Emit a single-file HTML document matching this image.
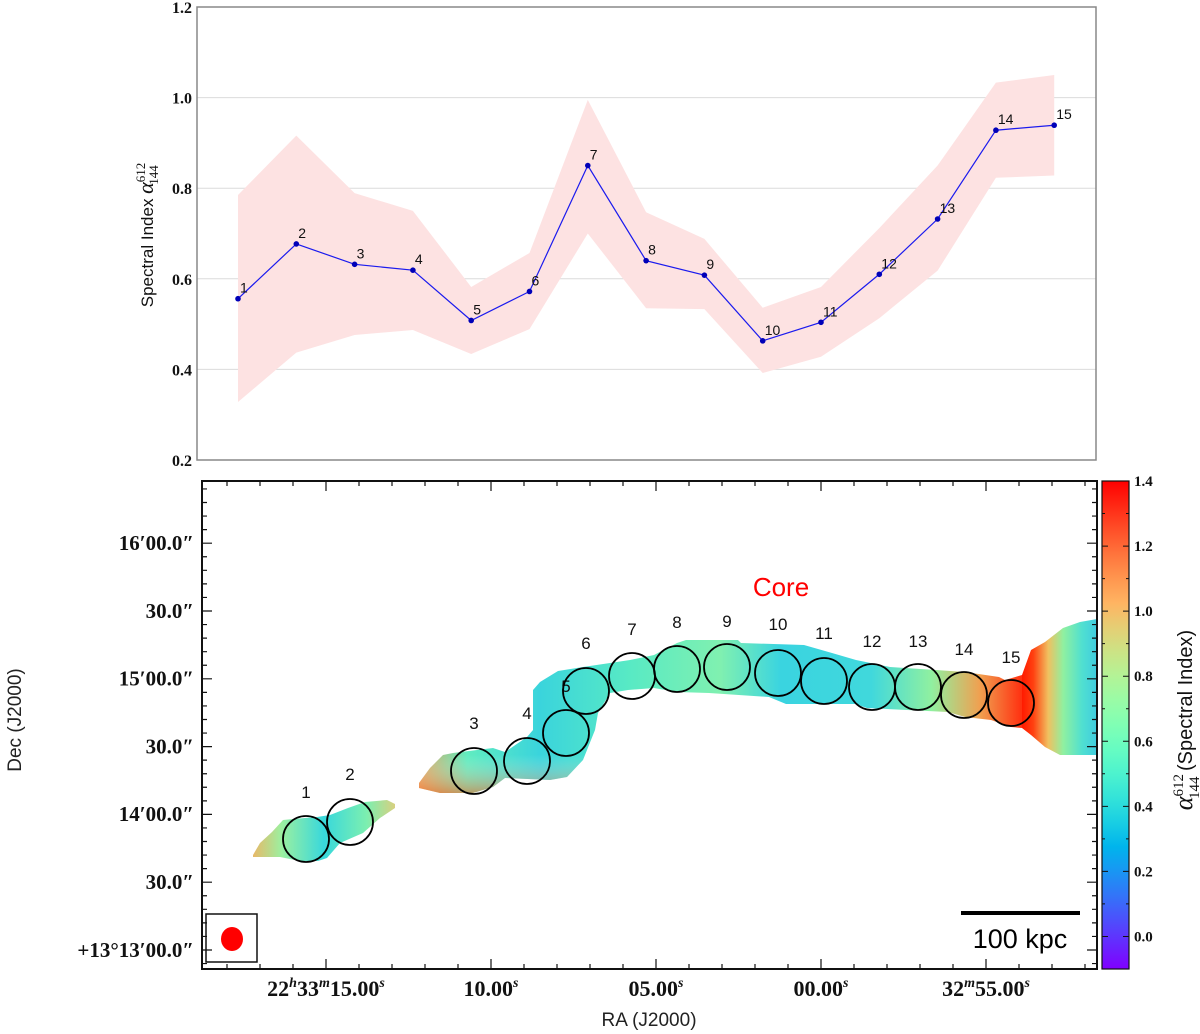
<!DOCTYPE html>
<html><head><meta charset="utf-8"><style>
html,body{margin:0;padding:0;background:#fff;}
svg{display:block;}
.serif{font-family:"Liberation Serif","DejaVu Serif",serif;font-weight:bold;}
.sans{font-family:"Liberation Sans","DejaVu Sans",sans-serif;}
</style></head><body>
<svg id="fig" width="1200" height="1034" viewBox="0 0 1200 1034" xmlns="http://www.w3.org/2000/svg">
<defs>
<linearGradient id="blobGradA" x1="0" y1="0" x2="1" y2="0">
<stop offset="0" stop-color="#e8b868"/><stop offset="0.2" stop-color="#9cf0a0"/><stop offset="0.5" stop-color="#38d8dc"/><stop offset="0.8" stop-color="#7cefb0"/><stop offset="1" stop-color="#d8d080"/>
</linearGradient>
<linearGradient id="mainGrad" x1="0" y1="0" x2="1" y2="0">
<stop offset="0" stop-color="#e0a860"/><stop offset="0.08" stop-color="#60ecc0"/><stop offset="0.2" stop-color="#3ad4dc"/><stop offset="0.35" stop-color="#58eac4"/><stop offset="0.5" stop-color="#80f0b0"/><stop offset="0.6" stop-color="#3ad4e0"/><stop offset="0.75" stop-color="#40d8dc"/><stop offset="0.85" stop-color="#90f0a0"/><stop offset="0.93" stop-color="#f0a050"/><stop offset="1" stop-color="#ff3010"/>
</linearGradient>
<linearGradient id="edgeGrad" x1="0" y1="0" x2="0" y2="1">
<stop offset="0" stop-color="#ffffff" stop-opacity="0"/><stop offset="0.75" stop-color="#ffffff" stop-opacity="0"/><stop offset="1" stop-color="#ff6020" stop-opacity="0.55"/>
</linearGradient>
<linearGradient id="wedgeGrad" x1="0" y1="0" x2="1" y2="0">
<stop offset="0" stop-color="#ff1a00"/><stop offset="0.15" stop-color="#ff4010"/><stop offset="0.35" stop-color="#f0c060"/><stop offset="0.55" stop-color="#90f0a0"/><stop offset="0.8" stop-color="#50e0d0"/><stop offset="1" stop-color="#40cce0"/>
</linearGradient>
<linearGradient id="cbGrad" x1="0" y1="1" x2="0" y2="0"></linearGradient>
</defs>
<g id="topPanel"></g>
<g id="bottomPanel"></g>
</svg>
<script>
// ===== Top chart data =====
const regions = [1,2,3,4,5,6,7,8,9,10,11,12,13,14,15];
const alphaValues = [0.556,0.677,0.632,0.619,0.508,0.572,0.850,0.640,0.608,0.463,0.504,0.610,0.732,0.928,0.939];
const alphaUpper = [0.785,0.916,0.789,0.750,0.582,0.657,0.995,0.747,0.688,0.536,0.582,0.712,0.850,1.033,1.050];
const alphaLower = [0.328,0.437,0.476,0.487,0.434,0.489,0.700,0.535,0.533,0.392,0.428,0.513,0.618,0.823,0.828];
const yTicks = [0.2,0.4,0.6,0.8,1.0,1.2];
const gridTicks = [0.4,0.6,0.8,1.0];

// ===== Bottom map data =====
const circleRA = [306,350,474,527,566,586,632,677,727,778,824,872,918,964,1011];
const circleDec = [839,822,771,761,733,691,676,669,667,673,681,687,687,695,703];
const labelPos = [[306,798],[350,780],[474,729],[527,719],[566,692],[586,649],[632,635],[677,628],[727,627],[778,630],[824,639],[872,647],[918,647],[964,655],[1011,663]];
const raTickLabels = ["22h33m15.00s","10.00s","05.00s","00.00s","32m55.00s"];
const decTickLabels = ["16′00.0″","30.0″","15′00.0″","30.0″","14′00.0″","30.0″","+13°13′00.0″"];
const cbTicks = [0.0,0.2,0.4,0.6,0.8,1.0,1.2,1.4];

const NS='http://www.w3.org/2000/svg';
function mk(tag, attrs, parent){const e=document.createElementNS(NS,tag);for(const k in attrs)e.setAttribute(k,attrs[k]);parent.appendChild(e);return e;}

// ---- top chart ----
const topG=document.getElementById('topPanel');
const X0=197,X1=1096,Y0=7,Y1=460;
const xs=i=>238+58.3*i;
const ys=v=>Y0+(1.2-v)*(Y1-Y0);
gridTicks.forEach(t=>{const g=mk('line',{x1:X0,x2:X1,y1:ys(t),y2:ys(t),stroke:'#dcdcdc','stroke-width':1},topG);

});
let pts=alphaUpper.map((v,i)=>xs(i)+','+ys(v));
for(let i=alphaLower.length-1;i>=0;i--)pts.push(xs(i)+','+ys(alphaLower[i]));
const band=mk('polygon',{points:pts.join(' '),fill:'#fde2e2'},topG);


const line=mk('polyline',{points:alphaValues.map((v,i)=>xs(i)+','+ys(v)).join(' '),fill:'none',stroke:'#1a1aee','stroke-width':1.2},topG);


alphaValues.forEach((v,i)=>{
 const c=mk('circle',{cx:xs(i),cy:ys(v),r:2.8,fill:'#0000b8'},topG);
 
 
 const t=mk('text',{x:xs(i)+2,y:ys(v)-6,'font-size':14,class:'sans',fill:'#111'},topG);
 t.textContent=regions[i];
 
 
});
const fr=mk('rect',{x:X0,y:Y0,width:X1-X0,height:Y1-Y0,fill:'none',stroke:'#888','stroke-width':1.5},topG);


yTicks.forEach(t=>{const tx=mk('text',{x:192,y:ys(t)+6,'text-anchor':'end','font-size':16,class:'serif',fill:'#111'},topG);
tx.textContent=t.toFixed(1);

});
const yl=mk('text',{transform:'translate(153,235) rotate(-90)','text-anchor':'middle','font-size':17,class:'sans',fill:'#111'},topG);


yl.innerHTML='Spectral Index <tspan font-family="Liberation Serif,serif" font-style="italic" font-size="22">α</tspan><tspan font-size="13" dy="-8" font-family="Liberation Serif,serif">612</tspan><tspan font-size="13" dx="-22" dy="13" font-family="Liberation Serif,serif">144</tspan>';

// ---- bottom map ----
const bot=document.getElementById('bottomPanel');
const BX0=202,BX1=1097,BY0=481,BY1=969;
const blobA=mk('polygon',{points:'253,855 260,843 272,832 283,820 293,819 317,817 330,815 348,808 365,802 387,800 395,804 395,808 380,818 363,833 340,843 327,858 318,861 300,861 280,857 253,857',fill:'url(#blobGradA)'},bot);


const mainPts='419,788 419,783 430,768 443,755 453,753 493,748 505,752 527,737 533,730 533,690 540,682 558,671 583,667 610,663 630,660 654,655 677,643 686,640 738,640 741,643 804,645 832,653 856,660 890,667 936,670 965,672 999,677 1005,680 1022,675 1022,728 1011,727 991,720 965,717 948,712 867,708 855,704 786,704 769,697 709,693 677,692 654,688 628,690 610,693 598,713 595,730 583,760 567,777 550,780 505,778 493,787 473,793 440,793 419,788';
const mainP=mk('polygon',{points:mainPts,fill:'url(#mainGrad)'},bot);


const mainEdge=mk('polygon',{points:mainPts,fill:'url(#edgeGrad)'},bot);


const wedge=mk('polygon',{points:'1022,675 1031,650 1045,642 1063,628 1080,622 1097,619 1097,755 1060,755 1045,747 1031,735 1022,728',fill:'url(#wedgeGrad)'},bot);


circleRA.forEach((x,i)=>{
 const c=mk('circle',{cx:x,cy:circleDec[i],r:23,fill:'none',stroke:'#000','stroke-width':1.8},bot);
 
 
 const t=mk('text',{x:labelPos[i][0],y:labelPos[i][1],'text-anchor':'middle','font-size':17,class:'sans',fill:'#111'},bot);
 t.textContent=regions[i];
 
 
});
const core=mk('text',{x:781,y:596,'text-anchor':'middle','font-size':26,class:'sans',fill:'#ff0000'},bot);
core.textContent='Core';


const bb=mk('rect',{x:206,y:914,width:51,height:48,fill:'#fff',stroke:'#111','stroke-width':1.5},bot);


const be=mk('ellipse',{cx:232,cy:939,rx:11,ry:12,fill:'#ff0000'},bot);


const sb=mk('rect',{x:961,y:911,width:119,height:4,fill:'#000'},bot);


const sbt=mk('text',{x:1020,y:948,'text-anchor':'middle','font-size':27,class:'sans',fill:'#000'},bot);
sbt.textContent='100 kpc';


let tk='';
const raMajor=[326,491,656,821,986];
for(let x=326-33*3;x<BX1;x+=33){if(x<=BX0)continue;const maj=raMajor.some(m=>Math.abs(m-x)<1);const L=maj?10:5;tk+=`M${x},${BY1}v${-L}M${x},${BY0}v${L}`;}
for(let k=0;k<40;k++){const y=950-13.56*k;if(y<=BY0)break;const L=(k%5===0)?10:5;tk+=`M${BX0},${y}h${L}M${BX1},${y}h${-L}`;}
tk+=`M${BX0},${963.56}h5M${BX1},${963.56}h-5`;
const ticks=mk('path',{d:tk,stroke:'#111','stroke-width':1.2,fill:'none'},bot);


const bf=mk('rect',{x:BX0,y:BY0,width:BX1-BX0,height:BY1-BY0,fill:'none',stroke:'#111','stroke-width':2},bot);


const sup=u=>'<tspan font-size="14" dy="-9" font-style="italic">'+u+'</tspan>';
raTickLabels.forEach((s,i)=>{
 const t=mk('text',{x:raMajor[i],y:996,'text-anchor':'middle','font-size':22,class:'serif',fill:'#111'},bot);
 const m=s.match(/^(?:(\d+)h)?(?:(\d+)m)?([\d.]+)s$/);
 let h='';
 if(m){
 let first=true;
 const num=n=>{const r=first?'<tspan>'+n+'</tspan>':'<tspan dy="9">'+n+'</tspan>';first=false;return r;};
 if(m[1])h+=num(m[1])+sup('h');
 if(m[2])h+=num(m[2])+sup('m');
 h+=num(m[3])+sup('s');
 } else h=s;
 t.innerHTML=h;
 
 
});
decTickLabels.forEach((s,i)=>{
 const t=mk('text',{x:194,y:543+67.8*i+7,'text-anchor':'end','font-size':21,class:'serif',fill:'#111'},bot);
 t.textContent=s;
 
 
});
const ral=mk('text',{x:649,y:1026,'text-anchor':'middle','font-size':19,class:'sans',fill:'#222'},bot);
ral.textContent='RA (J2000)';


const dl=mk('text',{transform:'translate(21,720) rotate(-90)','text-anchor':'middle','font-size':19,class:'sans',fill:'#222'},bot);
dl.textContent='Dec (J2000)';


const g=document.getElementById('cbGrad');
for(let k=0;k<=20;k++){const x=k/20;const r=Math.min(1,Math.abs(2*x-0.5)),gg=Math.sin(Math.PI*x),b=Math.cos(Math.PI*x/2);
 mk('stop',{offset:x,'stop-color':`rgb(${Math.round(r*255)},${Math.round(gg*255)},${Math.round(Math.max(0,b)*255)})`},g);}
const CB0=481,CB1=969,cbv=v=>CB1-(v+0.1)/1.5*(CB1-CB0);
const cb=mk('rect',{x:1102,y:CB0,width:27,height:CB1-CB0,fill:'url(#cbGrad)',stroke:'#111','stroke-width':1.2},bot);


let ct='';
for(let k=0;k<=15;k++){const v=-0.1+0.1*k;const y=cbv(v);const L=(k%2===1)?6:3;ct+=`M1102,${y}h${L}M1129,${y}h${-L}`;}
const cbt=mk('path',{d:ct,stroke:'#111','stroke-width':1,fill:'none'},bot);


cbTicks.forEach(v=>{const t=mk('text',{x:1134,y:cbv(v)+5,'font-size':15,class:'serif',fill:'#111'},bot);
 t.textContent=v.toFixed(1);
 
 });
const cl=mk('text',{transform:'translate(1192,720) rotate(-90)','text-anchor':'middle','font-size':20,class:'sans',fill:'#111'},bot);
cl.innerHTML='<tspan font-family="Liberation Serif,serif" font-style="italic" font-size="26">α</tspan><tspan font-size="15" dy="-9" font-family="Liberation Serif,serif">612</tspan><tspan font-size="15" dx="-25" dy="16" font-family="Liberation Serif,serif">144</tspan><tspan dy="-7"> (Spectral Index)</tspan>';


</script>
</body></html>
